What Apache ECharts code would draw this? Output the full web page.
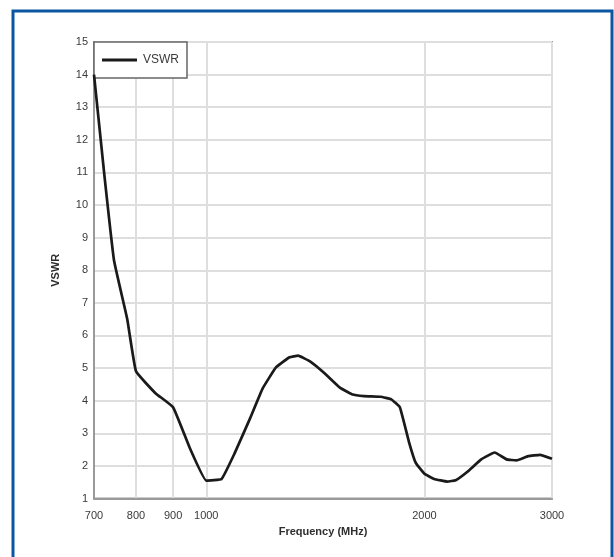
<!DOCTYPE html>
<html>
<head>
<meta charset="utf-8">
<script src="https://cdn.jsdelivr.net/npm/echarts@6/dist/echarts.min.js"></script>
<style>
  html, body { margin: 0; padding: 0; background: #ffffff; }
  #chart { width: 614px; height: 557px; }
</style>
</head>
<body>
<div id="chart"></div>
<script>
// Antenna VSWR across frequency (MHz)
const freqMHz = [700, 724, 746, 778, 800, 851, 900, 949, 1000, 1050, 1093, 1149, 1196, 1248, 1303, 1339,
  1392, 1455, 1529, 1588, 1651, 1740, 1800, 1850, 1904, 1946, 2000, 2063, 2150, 2209, 2293, 2396,
  2500, 2597, 2680, 2781, 2888, 3000];
const vswr = [14.0, 10.85, 8.3, 6.5, 4.9, 4.23, 3.8, 2.55, 1.55, 1.6, 2.36, 3.45, 4.37, 5.02, 5.33, 5.38,
  5.2, 4.85, 4.4, 4.2, 4.14, 4.12, 4.04, 3.8, 2.74, 2.09, 1.76, 1.6, 1.52, 1.56, 1.82, 2.2,
  2.41, 2.2, 2.17, 2.3, 2.34, 2.22];
const freqTicks = [700, 800, 900, 1000, 2000, 3000];
const seriesName = 'VSWR';

const points = freqMHz.map((f, i) => [f, vswr[i]]);

const labelFont = '"Liberation Sans Narrow", "Liberation Sans", Arial, sans-serif';
const chart = echarts.init(document.getElementById('chart'), null, { renderer: 'canvas' });

chart.setOption({
  animation: false,
  backgroundColor: '#ffffff',
  grid: {
    left: 94, right: 62, top: 42, bottom: 58.5,
    show: true, borderColor: '#9a9a9a', borderWidth: 2, backgroundColor: 'transparent'
  },
  legend: {
    left: 94, top: 42,
    orient: 'vertical',
    backgroundColor: '#ffffff',
    borderColor: '#666666', borderWidth: 1.5, borderRadius: 0,
    padding: [12, 8, 12, 8],
    icon: 'rect',
    itemWidth: 35, itemHeight: 3, itemGap: 4,
    textStyle: { fontFamily: labelFont, fontSize: 12, color: '#3a3a3a', padding: [0, 0, 0, 1] },
    data: [seriesName]
  },
  graphic: [{
    type: 'rect',
    shape: { x: 13, y: 11, width: 599, height: 580 },
    style: { fill: 'none', stroke: '#0b56a2', lineWidth: 3 },
    silent: true, z: 100
  }],
  xAxis: {
    type: 'log', logBase: 10, min: 700, max: 3000,
    name: 'Frequency (MHz)', nameLocation: 'middle', nameGap: 28,
    nameTextStyle: { fontFamily: labelFont, fontSize: 11, fontWeight: 'bold', color: '#2e2e2e' },
    axisLine: { show: true, lineStyle: { color: '#9a9a9a', width: 2 } },
    axisTick: { show: false, customValues: freqTicks },
    axisLabel: {
      customValues: freqTicks, margin: 12,
      formatter: (v) => String(Math.round(v)),
      fontFamily: labelFont, fontSize: 11, color: '#3a3a3a',
      showMinLabel: true, showMaxLabel: true
    },
    splitLine: { show: true, lineStyle: { color: '#dedede', width: 2 } },
    minorTick: { show: false }, minorSplitLine: { show: false }
  },
  yAxis: {
    type: 'value', min: 1, max: 15, interval: 1,
    name: 'VSWR', nameLocation: 'middle', nameGap: 33, nameRotate: 90,
    nameTextStyle: { fontFamily: labelFont, fontSize: 11, fontWeight: 'bold', color: '#2e2e2e' },
    axisLine: { show: true, lineStyle: { color: '#9a9a9a', width: 2 } },
    axisTick: { show: false },
    axisLabel: { margin: 6, fontFamily: labelFont, fontSize: 11, color: '#3a3a3a' },
    splitLine: { show: true, lineStyle: { color: '#dedede', width: 2 } }
  },
  series: [{
    name: seriesName,
    type: 'line',
    data: points,
    symbol: 'none',
    smooth: 0.1,
    lineStyle: { color: '#1a1a1a', width: 2.7 },
    itemStyle: { color: '#1a1a1a' },
    z: 5
  }]
});
</script>
</body>
</html>
